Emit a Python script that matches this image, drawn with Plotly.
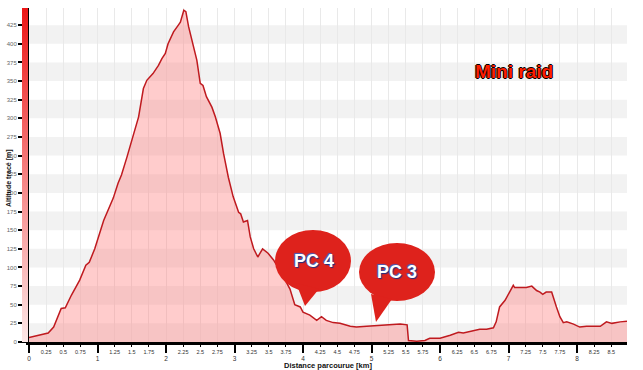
import plotly.graph_objects as go

# ---------------- data ----------------
distance_km = [0, 0.16, 0.28, 0.36, 0.43, 0.47, 0.53, 0.62, 0.74, 0.83, 0.88, 0.96,
               1.09, 1.20, 1.23, 1.30, 1.35, 1.43, 1.52, 1.60, 1.67, 1.72, 1.81, 1.89,
               1.94, 1.99, 2.03, 2.11, 2.18, 2.21, 2.26, 2.29, 2.33, 2.38, 2.45, 2.50,
               2.54, 2.59, 2.67, 2.72, 2.79, 2.84, 2.91, 2.98, 3.06, 3.09, 3.13, 3.19,
               3.23, 3.28, 3.34, 3.41, 3.49, 3.57, 3.70, 3.81, 3.88, 3.96, 4.00, 4.10,
               4.20, 4.27, 4.34, 4.44, 4.54, 4.69, 4.78, 4.93, 5.07, 5.27, 5.42, 5.52,
               5.54, 5.66, 5.78, 5.85, 6.00, 6.15, 6.27, 6.34, 6.46, 6.58, 6.68, 6.78,
               6.82, 6.87, 6.95, 7.02, 7.07, 7.09, 7.26, 7.34, 7.41, 7.46, 7.50, 7.55,
               7.63, 7.70, 7.75, 7.80, 7.85, 7.95, 8.04, 8.14, 8.34, 8.43, 8.51, 8.63,
               8.73]
altitude_m = [6, 10, 12, 20, 36, 45, 46, 63, 83, 103, 107, 125,
              163, 188, 193, 213, 224, 248, 275, 302, 340, 351, 360, 371,
              380, 387, 400, 416, 425, 429, 445, 443, 423, 405, 378, 347,
              344, 329, 315, 302, 280, 253, 221, 195, 174, 172, 161, 163,
              141, 125, 114, 125, 119, 110, 90, 71, 50, 47, 40, 36,
              29, 34, 29, 26, 25, 21, 20, 21, 22, 23, 24, 23,
              2, 1, 2, 5, 5, 9, 13, 12, 15, 17, 17, 19,
              27, 47, 56, 69, 76, 73, 73, 75, 69, 67, 64, 67,
              67, 47, 34, 26, 27, 24, 20, 21, 21, 27, 25, 27,
              28]

y_tick_vals = list(range(0, 426, 25))
x_major_vals = [0, 1, 2, 3, 4, 5, 6, 7, 8]
x_major_text = ["0", "1", "2", "3", "4", "5", "6", "7", "8"]
x_minor_vals = [0.25, 0.5, 0.75, 1.25, 1.5, 1.75, 2.25, 2.5, 2.75, 3.25, 3.5, 3.75,
                4.25, 4.5, 4.75, 5.25, 5.5, 5.75, 6.25, 6.5, 6.75, 7.25, 7.5, 7.75,
                8.25, 8.5]
x_minor_text = ["0.25", "0.5", "0.75", "1.25", "1.5", "1.75", "2.25", "2.5", "2.75",
                "3.25", "3.5", "3.75", "4.25", "4.5", "4.75", "5.25", "5.5", "5.75",
                "6.25", "6.5", "6.75", "7.25", "7.5", "7.75", "8.25", "8.5"]
band_starts = [0, 50, 100, 150, 200, 250, 300, 350, 400]
band_height = 25
chart_title = "Mini raid"
y_title = "Altitude tracé [m]"
x_title = "Distance parcourue [km]"
checkpoint_labels = ["PC 4", "PC 3"]

# ---------------- geometry helpers ----------------
W, H = 643, 370
ML, MR, MT, MB = 29, 16, 8, 28
PW, PH = W - ML - MR, H - MT - MB


def px(x, y):
    return (x - ML) / PW, (H - MB - y) / PH


FONT = "Arial, Liberation Sans, sans-serif"

fig = go.Figure()

fig.add_trace(go.Scatter(
    x=distance_km, y=altitude_m, mode="lines",
    line=dict(color="#bf1a1f", width=1.5),
    fill="tozeroy", fillcolor="rgba(255,120,120,0.38)",
    hoverinfo="skip", showlegend=False))

# dummy trace to show the secondary x axis (fractional labels)
fig.add_trace(go.Scatter(x=[None], y=[None], xaxis="x2", yaxis="y",
                         showlegend=False, hoverinfo="skip"))

# dummy trace carrying the red gradient bar along the y axis
fig.add_trace(go.Scatter(
    x=[None], y=[None], mode="markers", showlegend=False, hoverinfo="skip",
    marker=dict(color=[0], cmin=0, cmax=1,
                colorscale=[[0, "rgb(253,232,232)"], [0.5, "rgb(246,130,130)"],
                            [1, "rgb(236,22,22)"]],
                showscale=True,
                colorbar=dict(xref="container", x=22 / W, xanchor="left",
                              thickness=6, thicknessmode="pixels",
                              len=1, lenmode="fraction", yref="paper", y=0,
                              yanchor="bottom", outlinewidth=0,
                              showticklabels=False, ticks="", xpad=0, ypad=0))))

shapes = []
for b in band_starts:
    shapes.append(dict(type="rect", xref="paper", yref="y", x0=0, x1=1,
                       y0=b, y1=b + band_height, fillcolor="#f2f2f2",
                       line=dict(width=0), layer="below"))

bubble_color = "rgb(222,34,28)"
# bubble PC 4
ex0, ey0 = px(275, 292)
ex1, ey1 = px(351, 230)
shapes.append(dict(type="circle", xref="paper", yref="paper", x0=ex0, y0=ey0,
                   x1=ex1, y1=ey1, fillcolor=bubble_color, line=dict(width=0)))
a, b_, c = px(296, 283), px(305, 306), px(319, 289)
shapes.append(dict(type="path", xref="paper", yref="paper",
                   path=f"M {a[0]},{a[1]} L {b_[0]},{b_[1]} L {c[0]},{c[1]} Z",
                   fillcolor=bubble_color, line=dict(width=0)))
# bubble PC 3
ex0, ey0 = px(359, 301)
ex1, ey1 = px(435, 243)
shapes.append(dict(type="circle", xref="paper", yref="paper", x0=ex0, y0=ey0,
                   x1=ex1, y1=ey1, fillcolor=bubble_color, line=dict(width=0)))
a, b_, c = px(371, 294), px(376, 322), px(392, 299)
shapes.append(dict(type="path", xref="paper", yref="paper",
                   path=f"M {a[0]},{a[1]} L {b_[0]},{b_[1]} L {c[0]},{c[1]} Z",
                   fillcolor=bubble_color, line=dict(width=0)))

annotations = []
tx, ty = px(514, 71)
annotations.append(dict(
    text=f"<b>{chart_title}</b>", xref="paper", yref="paper", x=tx, y=ty,
    showarrow=False, xanchor="center", yanchor="middle",
    font=dict(family=FONT, size=19, color="rgb(255,30,0)",
              shadow="-1px 0 0 #000, 1px 0 0 #000, 0 -1px 0 #000, 0 1px 0 #000")))
for label, (cx, cy) in zip(checkpoint_labels, [(314, 261), (397, 272)]):
    tx, ty = px(cx, cy)
    annotations.append(dict(
        text=f"<b>{label}</b>", xref="paper", yref="paper", x=tx, y=ty,
        showarrow=False, xanchor="center", yanchor="middle",
        font=dict(family=FONT, size=18, color="white",
                  shadow="1px 1px 1px #1c2f80, -1px -1px 1px #4060c0")))
tx, ty = px(9, 178)
annotations.append(dict(
    text=f"<b>{y_title}</b>", xref="paper", yref="paper", x=tx, y=ty,
    showarrow=False, textangle=-90, xanchor="center", yanchor="middle",
    font=dict(family=FONT, size=7, color="#111")))
tx, ty = px(328, 365)
annotations.append(dict(
    text=f"<b>{x_title}</b>", xref="paper", yref="paper", x=tx, y=ty,
    showarrow=False, xanchor="center", yanchor="middle",
    font=dict(family=FONT, size=7.5, color="#111")))

fig.update_layout(
    width=W, height=H,
    margin=dict(l=ML, r=MR, t=MT, b=MB, autoexpand=False),
    paper_bgcolor="white", plot_bgcolor="white",
    showlegend=False,
    font=dict(family=FONT),
    xaxis=dict(range=[0, 8.73], tickmode="array", tickvals=x_major_vals,
               ticktext=x_major_text, ticks="outside", ticklen=8, tickwidth=2,
               tickcolor="black", showline=True, linecolor="black", linewidth=3,
               showgrid=True, gridcolor="#e9e9e9", gridwidth=1, zeroline=False,
               tickfont=dict(size=6.5, color="#333"),
               minor=dict(dtick=0.25, tick0=0, showgrid=True, gridcolor="#e9e9e9",
                          gridwidth=1, ticks="")),
    xaxis2=dict(range=[0, 8.73], overlaying="x", anchor="y", side="bottom",
                tickmode="array", tickvals=x_minor_vals, ticktext=x_minor_text,
                ticks="outside", ticklen=4, tickwidth=1, tickcolor="black",
                showgrid=False, showline=False, zeroline=False,
                tickfont=dict(size=5.5, color="#333")),
    yaxis=dict(range=[0, 448], tickmode="array", tickvals=y_tick_vals,
               ticks="outside", ticklen=8, tickwidth=1.5, tickcolor="black",
               showline=True, linecolor="black", linewidth=3,
               showgrid=False, zeroline=False,
               tickfont=dict(size=6, color="#666")),
    shapes=shapes,
    annotations=annotations,
)

fig.write_html("out.html",
               config={"displayModeBar": False},
               post_script="document.body.style.margin='0';document.body.style.overflow='hidden';")
